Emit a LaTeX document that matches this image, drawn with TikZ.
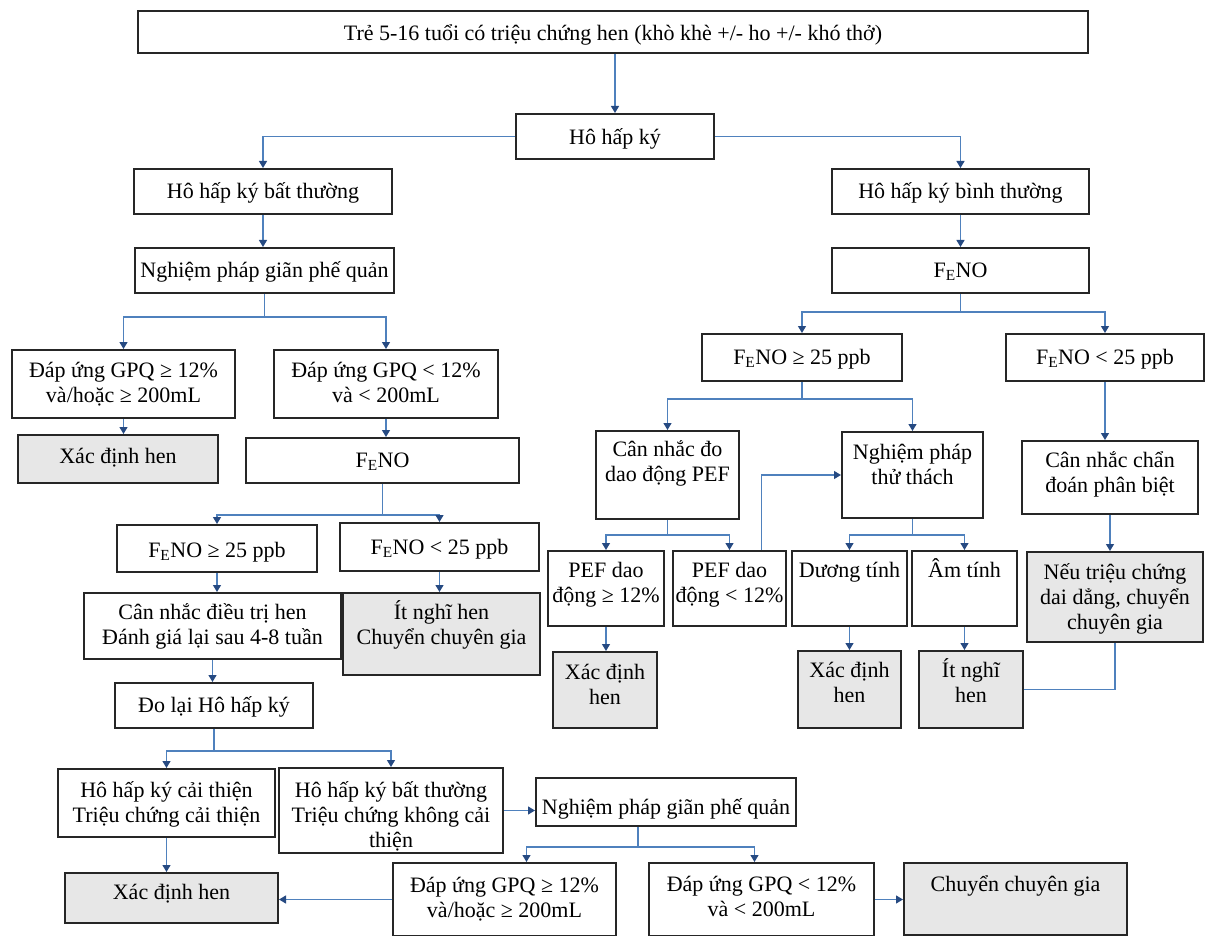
\documentclass[tikz,border=0pt]{standalone}
\usepackage{fontspec}
\setmainfont{Liberation Serif}
\usetikzlibrary{arrows.meta}
\definecolor{linkblue}{RGB}{79,129,189}
\definecolor{tipblue}{RGB}{38,74,130}
\definecolor{boxgrey}{RGB}{231,231,231}
\newcommand{\feno}{F\textsubscript{E}NO}

\begin{document}
\begin{tikzpicture}[x=1pt, y=-1pt,
  box/.style={draw=black!85, line width=2pt, anchor=north west, align=center, inner sep=0pt, font=\fontsize{22}{25}\selectfont},
  greybox/.style={box, fill=boxgrey},
  link/.style={draw=linkblue, line width=1.2pt},
  arr/.style={link, -{Triangle[length=7pt, width=8pt, color=tipblue]}}]
\useasboundingbox (0,0) rectangle (1205,936);

\node[box, minimum width=950pt, text height=30pt, text depth=12pt] (symp) at (137,10) {Trẻ 5-16 tuổi có triệu chứng hen (khò khè +/- ho +/- khó thở)};
\node[box, minimum width=198pt, text height=31pt, text depth=14pt] (spiro) at (515,113) {Hô hấp ký};
\node[box, minimum width=258pt, text height=30pt, text depth=15pt] (abn) at (133,168) {Hô hấp ký bất thường};
\node[box, minimum width=257pt, text height=30pt, text depth=15pt] (nor) at (831,168) {Hô hấp ký bình thường};
\node[box, minimum width=259pt, text height=29pt, text depth=16pt] (bdr) at (134,247) {Nghiệm pháp giãn phế quản};
\node[box, minimum width=257pt, text height=29pt, text depth=16pt] (fenoR) at (831,247) {\feno};

\node[box, minimum width=223pt, text height=52pt, text depth=16pt] (gpqHi) at (11,349) {Đáp ứng GPQ ≥ 12\%\\và/hoặc ≥ 200mL};
\node[box, minimum width=224pt, text height=52pt, text depth=16pt] (gpqLo) at (273,349) {Đáp ứng GPQ < 12\%\\và < 200mL};
\node[greybox, minimum width=200pt, text height=28pt, text depth=20pt] (confA) at (17,434) {Xác định hen};
\node[box, minimum width=273pt, text height=29pt, text depth=16pt] (fenoL) at (245,437) {\feno};
\node[box, minimum width=200pt, text height=32pt, text depth=15pt] (fenoLhi) at (116,524) {\feno{} ≥ 25 ppb};
\node[box, minimum width=199pt, text height=31pt, text depth=17pt] (fenoLlo) at (339,522) {\feno{} < 25 ppb};
\node[box, minimum width=257pt, text height=51pt, text depth=15pt] (treat) at (83,592) {Cân nhắc điều trị hen\\Đánh giá lại sau 4-8 tuần};
\node[greybox, minimum width=197pt, text height=51pt, text depth=31pt] (unlikelyA) at (342,592) {Ít nghĩ hen\\Chuyển chuyên gia};
\node[box, minimum width=198pt, text height=29pt, text depth=16pt] (respiro) at (114,682) {Đo lại Hô hấp ký};
\node[box, minimum width=217pt, text height=53pt, text depth=15pt] (impr) at (57,768) {Hô hấp ký cải thiện\\Triệu chứng cải thiện};
\node[box, minimum width=224pt, text height=79pt, text depth=6pt] (noimpr) at (278,767) {Hô hấp ký bất thường\\Triệu chứng không cải\\thiện};
\node[box, minimum width=260pt, text height=36pt, text depth=12pt] (bdrB) at (535,777) {Nghiệm pháp giãn phế quản};
\node[box, minimum width=223pt, text height=54pt, text depth=19pt] (gpqHiB) at (392,862) {Đáp ứng GPQ ≥ 12\%\\và/hoặc ≥ 200mL};
\node[box, minimum width=225pt, text height=53pt, text depth=20pt] (gpqLoB) at (648,862) {Đáp ứng GPQ < 12\%\\và < 200mL};
\node[greybox, minimum width=213pt, text height=26pt, text depth=24pt] (confB) at (64,872) {Xác định hen};
\node[greybox, minimum width=223pt, text height=28pt, text depth=44pt] (refer) at (903,862) {Chuyển chuyên gia};

\node[box, minimum width=200pt, text height=30pt, text depth=17pt] (fenoRhi) at (701,333) {\feno{} ≥ 25 ppb};
\node[box, minimum width=198pt, text height=30pt, text depth=17pt] (fenoRlo) at (1005,333) {\feno{} < 25 ppb};
\node[box, minimum width=143pt, text height=50pt, text depth=38pt] (pefcons) at (595,430) {Cân nhắc đo\\dao động PEF};
\node[box, minimum width=141pt, text height=52pt, text depth=34pt] (chall) at (841,431) {Nghiệm pháp\\thử thách};
\node[box, minimum width=176pt, text height=51pt, text depth=22pt] (ddx) at (1021,440) {Cân nhắc chẩn\\đoán phân biệt};
\node[box, minimum width=116pt, text height=51pt, text depth=24pt] (pefHi) at (547,550) {PEF dao\\động ≥ 12\%};
\node[box, minimum width=113pt, text height=51pt, text depth=24pt] (pefLo) at (672,550) {PEF dao\\động < 12\%};
\node[box, minimum width=115pt, text height=26pt, text depth=49pt] (pos) at (791,550) {Dương tính};
\node[box, minimum width=105pt, text height=26pt, text depth=49pt] (neg) at (911,550) {Âm tính};
\node[greybox, minimum width=176pt, text height=77pt, text depth=13pt] (persist) at (1026,551) {Nếu triệu chứng\\dai dẳng, chuyển\\chuyên gia};
\node[greybox, minimum width=104pt, text height=52pt, text depth=24pt] (confC) at (552,651) {Xác định\\hen};
\node[greybox, minimum width=103pt, text height=51pt, text depth=26pt] (confD) at (797,650) {Xác định\\hen};
\node[greybox, minimum width=104pt, text height=51pt, text depth=26pt] (unlikelyB) at (918,650) {Ít nghĩ\\hen};

\draw[arr] (symp.south -| spiro.north) -- (spiro.north);
\draw[arr] (spiro.west) -| (abn.north);
\draw[arr] (spiro.east) -| (nor.north);
\draw[arr] (abn.south) -- (abn.south |- bdr.north);
\draw[arr] (nor.south) -- (nor.south |- fenoR.north);

\draw[arr] (bdr.south) -- ++(0,23) -| (gpqHi.north);
\draw[arr] (bdr.south) ++(0,23) -| (gpqLo.north);
\draw[arr] (gpqHi.south) -- (gpqHi.south |- confA.north);
\draw[arr] (gpqLo.south) -- (gpqLo.south |- fenoL.north);
\draw[arr] (fenoL.south) -- ++(0,31) -| (fenoLhi.north);
\draw[arr] (fenoL.south) ++(0,31) -| (fenoLlo.north);
\draw[arr] (fenoLhi.south) -- (fenoLhi.south |- treat.north);
\draw[arr] (fenoLlo.south) -- (fenoLlo.south |- unlikelyA.north);
\draw[arr] (treat.south) -- (treat.south |- respiro.north);
\draw[arr] (respiro.south) -- ++(0,22) -| (impr.north);
\draw[arr] (respiro.south) ++(0,22) -| (noimpr.north);
\draw[arr] (impr.south) -- (impr.south |- confB.north);
\draw[arr] (noimpr.east) -- (noimpr.east -| bdrB.west);
\draw[arr] ([xshift=-28pt]bdrB.south) -- ++(0,20) -| ([xshift=22pt]gpqHiB.north);
\draw[arr] ([xshift=-28pt]bdrB.south) ++(0,20) -| ([xshift=-7pt]gpqLoB.north);
\draw[arr] (gpqHiB.west) -- (gpqHiB.west -| confB.east);
\draw[arr] (gpqLoB.east) -- (gpqLoB.east -| refer.west);

\draw[arr] (fenoR.south) -- ++(0,18) -| (fenoRhi.north);
\draw[arr] (fenoR.south) ++(0,18) -| (fenoRlo.north);
\draw[arr] (fenoRhi.south) -- ++(0,17) -| (pefcons.north);
\draw[arr] (fenoRhi.south) ++(0,17) -| (chall.north);
\draw[arr] (fenoRlo.south) -- (fenoRlo.south |- ddx.north);
\draw[arr] (ddx.south) -- (ddx.south |- persist.north);
\draw[arr] (pefcons.south) -- ++(0,15) -| (pefHi.north);
\draw[arr] (pefcons.south) ++(0,15) -| (pefLo.north);
\draw[arr] ([xshift=32pt]pefLo.north) |- (chall.west);
\draw[arr] (chall.south) -- ++(0,16) -| (pos.north);
\draw[arr] (chall.south) ++(0,16) -| (neg.north);
\draw[arr] (pefHi.south) -- (pefHi.south |- confC.north);
\draw[arr] (pos.south) -- (pos.south |- confD.north);
\draw[arr] (neg.south) -- (neg.south |- unlikelyB.north);
\draw[link] (persist.south) |- (unlikelyB.east);
\end{tikzpicture}
\end{document}
